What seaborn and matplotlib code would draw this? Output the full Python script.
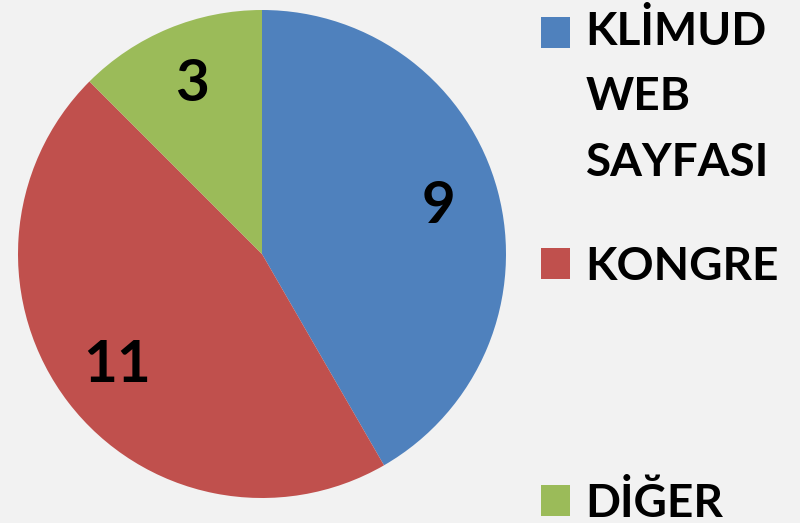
import matplotlib
matplotlib.use("Agg")
import matplotlib.pyplot as plt
from matplotlib.patches import Rectangle
from matplotlib.legend_handler import HandlerPatch
import seaborn as sns

categories = ["KLİMUD\nWEB\nSAYFASI", "KONGRE", "DİĞER"]
# slice sizes as measured from the wedge angles (150°, 165°, 45°)
slice_sizes = [10, 11, 3]
# numbers printed on the slices
slice_labels = ["9", "11", "3"]
colors = ["#4f81bd", "#c0504d", "#9bbb59"]

sns.set_theme(style="white")
plt.rcParams["font.family"] = ["Lato", "DejaVu Sans"]
plt.rcParams["text.color"] = "black"

fig = plt.figure(figsize=(8.0, 5.23), dpi=100, facecolor="#f2f2f2")
W, H = 800, 523
cx, cy, r = 262, 254, 244
ax = fig.add_axes([(cx - r) / W, (H - cy - r) / H, 2 * r / W, 2 * r / H])
ax.set_facecolor("#f2f2f2")

wedges, texts = ax.pie(
    slice_sizes, colors=sns.color_palette(colors), startangle=90, counterclock=False,
    labels=slice_labels, labeldistance=0.75,
    wedgeprops=dict(linewidth=0), radius=1.0,
    textprops=dict(fontsize=42, fontweight="bold", color="black",
                   ha="center", va="center"))
ax.set_xlim(-1, 1)
ax.set_ylim(-1, 1)
ax.set_aspect("equal")
ax.axis("off")

FS = 33
LS = 1.7
LINE_PT = 65 * 72 / 100  # measured line pitch in points


def top_line_patch(nlines):
    def make(legend, orig_handle, xdescent, ydescent, width, height, fontsize):
        shift = (nlines - 1) / 2 * LINE_PT
        return Rectangle((-xdescent, -ydescent + shift), width, height)
    return make


# legend entries placed individually (top y of each entry, in pixels)
tops = [5, 241, 477]
for w, lab, t in zip(wedges, categories, tops):
    n = lab.count("\n") + 1
    leg = fig.legend([w], [lab], loc="upper left",
                     bbox_to_anchor=(536 / W, 1 - t / H),
                     frameon=False, handlelength=0.65, handleheight=0.65,
                     handletextpad=0.33, borderpad=0.1, borderaxespad=0,
                     labelcolor="black",
                     handler_map={w: HandlerPatch(patch_func=top_line_patch(n))},
                     prop=dict(family=["Lato", "DejaVu Sans"], weight="bold", size=FS))
    for txt in leg.get_texts():
        txt.set_linespacing(LS)
        txt.set_color("black")

fig.savefig("out.png", dpi=100, facecolor=fig.get_facecolor())
